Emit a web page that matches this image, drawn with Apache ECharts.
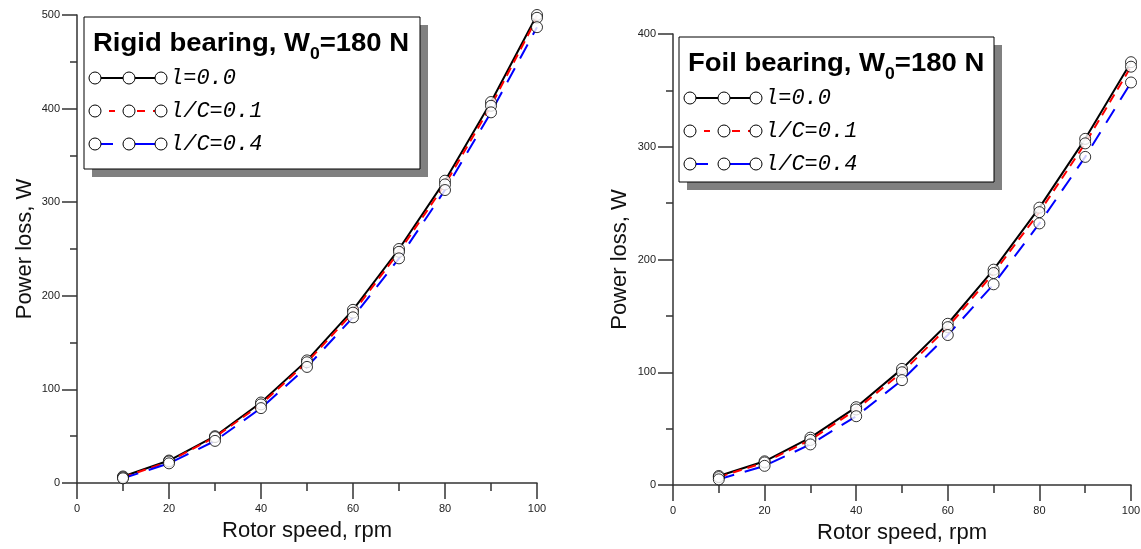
<!DOCTYPE html>
<html>
<head>
<meta charset="utf-8">
<title>Power loss vs rotor speed</title>
<script src="https://cdn.jsdelivr.net/npm/echarts@6/dist/echarts.min.js"></script>
<style>
  html, body { margin: 0; padding: 0; background: #fff; }
  #chart { width: 1141px; height: 549px; }
</style>
</head>
<body>
<div id="chart"></div>
<script>
// Rotor speed values shared by both panels
const speeds = [10, 20, 30, 40, 50, 60, 70, 80, 90, 100];

// Rigid bearing, W0 = 180 N — power loss, W
const rigidL0 = [7, 24, 50, 86, 131, 185, 250, 323, 407, 500];
const rigidC01 = [6, 23, 49, 84, 129, 182, 247, 319, 403, 497];
const rigidC04 = [5, 21, 45, 80, 124, 177, 240, 313, 396, 487];

// Foil bearing, W0 = 180 N — power loss, W
const foilL0 = [8, 21, 42, 69, 103, 143, 191, 246, 307, 375];
const foilC01 = [7, 20, 40, 67, 100, 140, 188, 242, 303, 371];
const foilC04 = [5, 17, 36, 61, 93, 133, 178, 232, 291, 357];

const seriesNames = ['l=0.0', 'l/C=0.1', 'l/C=0.4'];
const panelTitles = ['Rigid bearing, W', 'Foil bearing, W'];
const xAxisTitle = 'Rotor speed, rpm';
const yAxisTitle = 'Power loss, W';

const AXIS_FONT = 'Liberation Sans, Arial, sans-serif';
const AXIS_COLOR = '#333';
const lineStyles = [
  { color: '#000000', width: 2, type: 'solid' },
  { color: '#ff0000', width: 2, type: [9, 6] },
  { color: '#0000ff', width: 2, type: [16, 11] }
];

function pairs(values) {
  return speeds.map((s, i) => [s, values[i]]);
}

function xAxisFor(gridIndex) {
  return {
    type: 'value', gridIndex, min: 0, max: 100, interval: 20,
    name: xAxisTitle, nameLocation: 'middle', nameGap: 37,
    nameTextStyle: { fontFamily: AXIS_FONT, fontSize: 22, color: '#111' },
    axisLine: { show: true, onZero: false, lineStyle: { color: AXIS_COLOR, width: 1.5 } },
    axisTick: { show: true, inside: false, length: 16, lineStyle: { color: AXIS_COLOR, width: 1.5 } },
    minorTick: { show: true, splitNumber: 2, length: 8, lineStyle: { color: AXIS_COLOR, width: 1.5 } },
    axisLabel: { show: true, fontFamily: AXIS_FONT, fontSize: 11, color: '#222', margin: 20 },
    splitLine: { show: false }
  };
}

function yAxisFor(gridIndex, max, nameGap) {
  return {
    type: 'value', gridIndex, min: 0, max, interval: 100,
    name: yAxisTitle, nameLocation: 'middle', nameGap,
    nameTextStyle: { fontFamily: AXIS_FONT, fontSize: 22, color: '#111' },
    axisLine: { show: true, onZero: false, lineStyle: { color: AXIS_COLOR, width: 1.5 } },
    axisTick: { show: true, inside: false, length: 15, lineStyle: { color: AXIS_COLOR, width: 1.5 } },
    minorTick: { show: true, splitNumber: 2, length: 7, lineStyle: { color: AXIS_COLOR, width: 1.5 } },
    axisLabel: { show: true, fontFamily: AXIS_FONT, fontSize: 11, color: '#222', margin: 17 },
    splitLine: { show: false }
  };
}

function panelSeries(idx, groups) {
  const out = [];
  groups.forEach((vals, k) => {
    out.push({
      name: seriesNames[k], type: 'line', xAxisIndex: idx, yAxisIndex: idx,
      data: pairs(vals), showSymbol: false, symbol: 'none', smooth: false,
      lineStyle: lineStyles[k], z: 2 + k, silent: true, animation: false
    });
  });
  groups.forEach((vals, k) => {
    out.push({
      name: seriesNames[k], type: 'scatter', xAxisIndex: idx, yAxisIndex: idx,
      data: pairs(vals), symbol: 'circle', symbolSize: 11,
      itemStyle: { color: '#ffffff', borderColor: '#000000', borderWidth: 1 },
      z: 10, silent: true, animation: false
    });
  });
  return out;
}

// Boxed legend with drop shadow, title and three sample rows
function legendBox(x, y, w, h, title) {
  const els = [];
  els.push({ type: 'rect', shape: { x: x + 8, y: y + 8, width: w, height: h },
    style: { fill: '#808080' }, z: 20 });
  els.push({ type: 'rect', shape: { x, y, width: w, height: h },
    style: { fill: '#ffffff', stroke: '#000000', lineWidth: 1 }, z: 21 });
  els.push({ type: 'text', x: x + 9, y: y + 15, z: 22, scaleX: 1.1, originX: 0, originY: 0,
    style: {
      text: '{a|' + title + '}{s|0}{a|=180 N}',
      rich: {
        a: { fontFamily: AXIS_FONT, fontWeight: 'bold', fontSize: 25, lineHeight: 28,
             fill: '#000', verticalAlign: 'top' },
        s: { fontFamily: AXIS_FONT, fontWeight: 'bold', fontSize: 16, lineHeight: 16,
             fill: '#000', verticalAlign: 'top', padding: [15, 0, 0, 0] }
      }
    } });
  const rowY = [y + 61, y + 94, y + 127];
  const cx = [x + 11, x + 45, x + 77];
  const segs = [
    [[cx[0], cx[2]]],
    [[x + 25, x + 31], [x + 53, x + 61], [x + 69, x + 72]],
    [[x + 17, x + 29], [x + 51, x + 72]]
  ];
  rowY.forEach((ry, k) => {
    segs[k].forEach(sg => {
      els.push({ type: 'line', shape: { x1: sg[0], y1: ry, x2: sg[1], y2: ry },
        style: { stroke: lineStyles[k].color, lineWidth: 2 }, z: 22 });
    });
    cx.forEach(c => {
      els.push({ type: 'circle', shape: { cx: c, cy: ry, r: 6 },
        style: { fill: '#ffffff', stroke: '#000000', lineWidth: 1 }, z: 23 });
    });
    els.push({ type: 'text', x: x + 86, y: ry, z: 23,
      style: { text: seriesNames[k], fontFamily: 'Liberation Mono, monospace',
        fontStyle: 'italic', fontSize: 22, fill: '#000', verticalAlign: 'middle' } });
  });
  return els;
}

const chart = echarts.init(document.getElementById('chart'), null, { renderer: 'canvas' });
chart.setOption({
  animation: false,
  backgroundColor: '#ffffff',
  grid: [
    { left: 77, right: 604, top: 15, bottom: 66, outerBoundsMode: 'none', containLabel: false },
    { left: 673, right: 10, top: 34, bottom: 64, outerBoundsMode: 'none', containLabel: false }
  ],
  xAxis: [xAxisFor(0), xAxisFor(1)],
  yAxis: [yAxisFor(0, 500, 41), yAxisFor(1, 400, 42)],
  series: panelSeries(0, [rigidL0, rigidC01, rigidC04])
    .concat(panelSeries(1, [foilL0, foilC01, foilC04])),
  graphic: legendBox(84, 17, 336, 152, panelTitles[0])
    .concat(legendBox(679, 37, 315, 145, panelTitles[1]))
});
</script>
</body>
</html>
